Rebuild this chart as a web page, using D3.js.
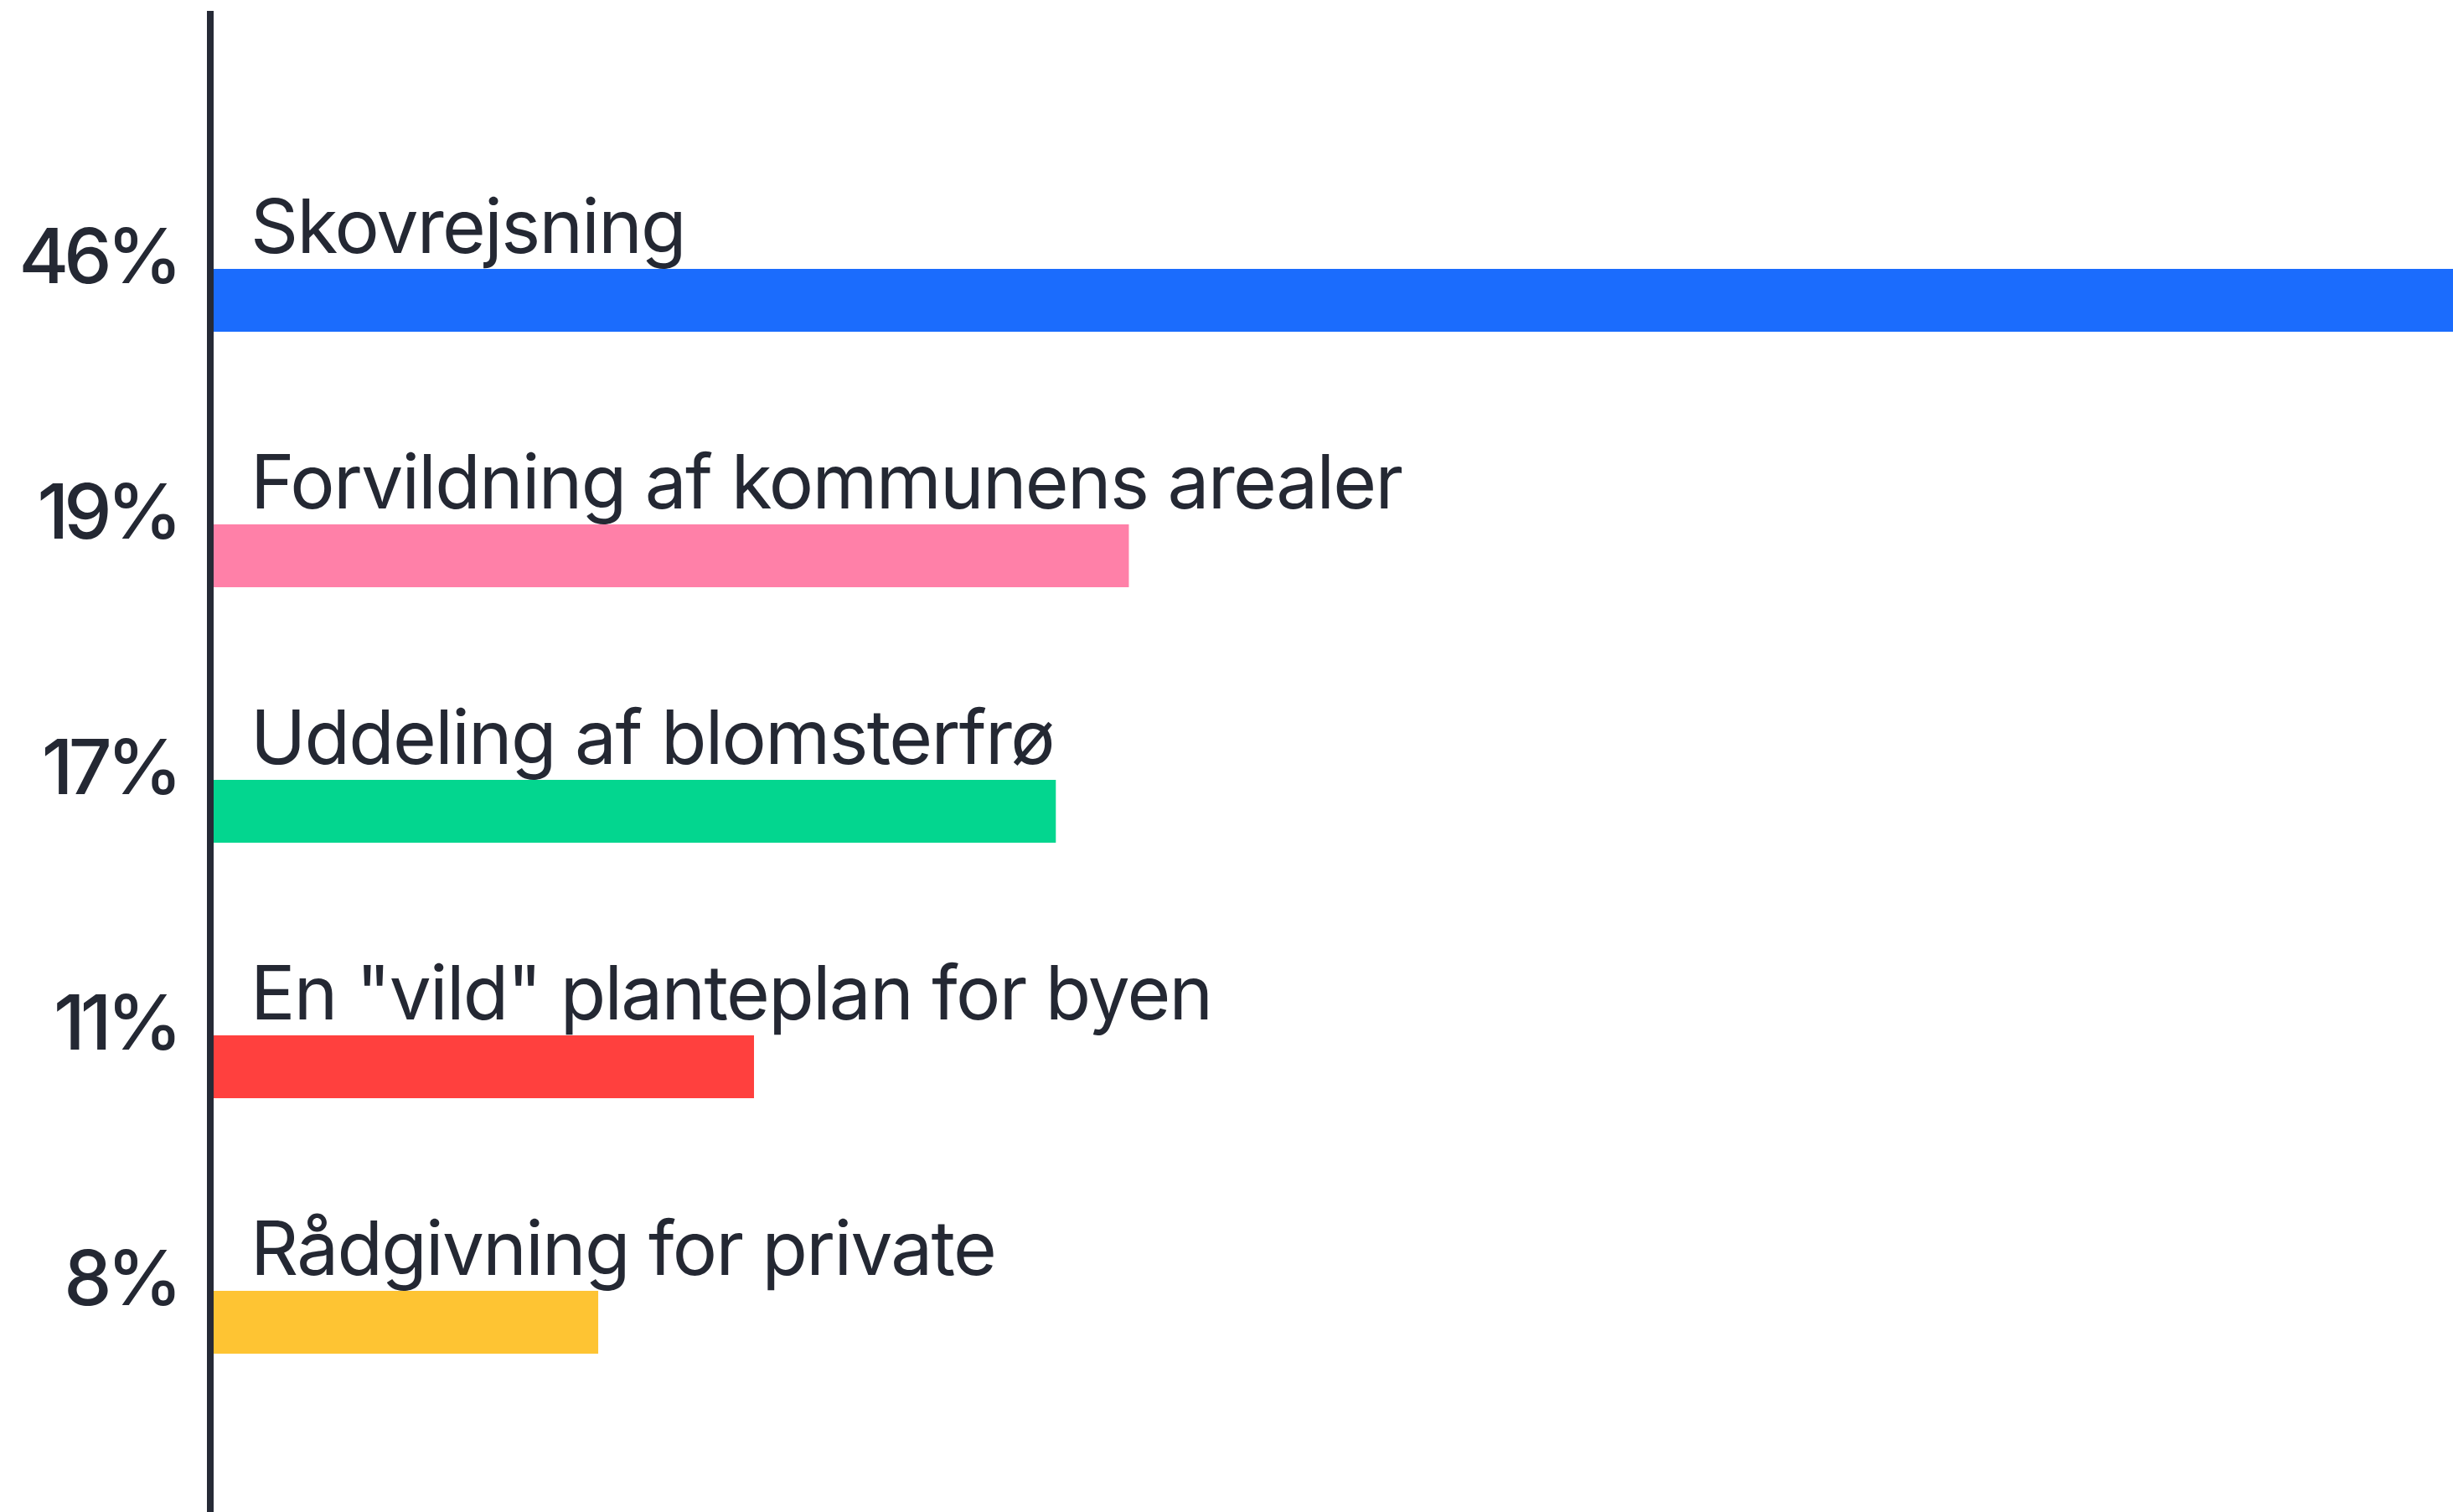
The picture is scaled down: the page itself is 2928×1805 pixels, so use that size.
<!DOCTYPE html>
<html>
<head>
<meta charset="utf-8">
<script src="https://cdn.jsdelivr.net/npm/d3@7"></script>
<style>
  html, body { margin: 0; padding: 0; background: #fff; }
  #chart { width: 2928px; height: 1805px; }
  text { font-family: Inter, "Noto Sans", sans-serif; fill: #242833; }
</style>
</head>
<body>
<div id="chart"></div>
<script>
// Kategorier og værdier
const categories = [
  "Skovrejsning",
  "Forvildning af kommunens arealer",
  "Uddeling af blomsterfrø",
  "En \"vild\" planteplan for byen",
  "Rådgivning for private"
];
const values = [46, 18.8, 17.3, 11.1, 7.9];
const colors = ["#1b6cfd", "#ff80a8", "#03d68f", "#ff403e", "#fec433"];
const fmtPct = v => d3.format(".0f")(v) + "%";

const W = 2928, H = 1805;
const axisX = 251;

const svg = d3.select("#chart").append("svg")
  .attr("width", W)
  .attr("height", H);

const x = d3.scaleLinear()
  .domain([0, d3.max(values)])
  .range([255, W]);

const y = d3.scaleBand()
  .domain(categories)
  .range([321, 1616])
  .paddingInner(0.754)
  .paddingOuter(0);

const data = categories.map((c, i) => ({ cat: c, value: values[i], color: colors[i] }));

// bars
svg.append("g").selectAll("rect")
  .data(data).join("rect")
  .attr("x", x(0))
  .attr("y", d => y(d.cat))
  .attr("width", d => x(d.value) - x(0))
  .attr("height", y.bandwidth())
  .attr("fill", d => d.color);

// lodret akse
svg.append("line")
  .attr("x1", axisX).attr("x2", axisX)
  .attr("y1", 13).attr("y2", H)
  .attr("stroke", "#262a36")
  .attr("stroke-width", 8);

// kategori-tekst over søjlen
svg.append("g").selectAll("text")
  .data(data).join("text")
  .attr("x", 299)
  .attr("y", d => y(d.cat) - 19)
  .attr("font-size", 89)
  .attr("font-weight", 400)
  .attr("letter-spacing", -1.7)
  .text(d => d.cat);

// procent-tekst til venstre
svg.append("g").selectAll("text")
  .data(data).join("text")
  .attr("x", 212)
  .attr("y", d => y(d.cat) + 17)
  .attr("text-anchor", "end")
  .attr("font-size", 91)
  .attr("font-weight", 500)
  .attr("letter-spacing", -6)
  .text(d => fmtPct(d.value));
</script>
</body>
</html>
